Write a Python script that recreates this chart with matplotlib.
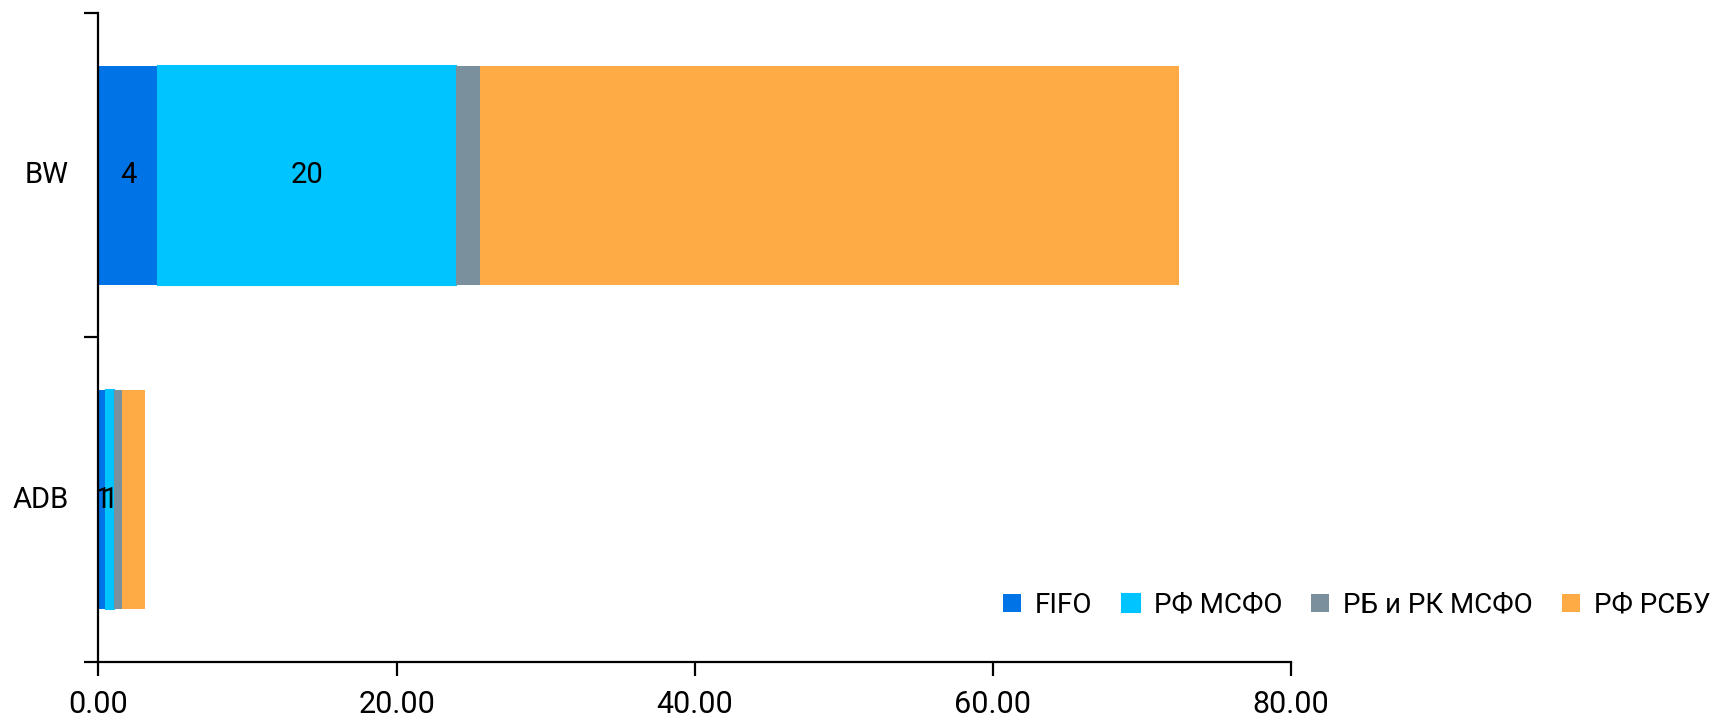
import numpy as np
import matplotlib.pyplot as plt

plt.rcParams['font.family'] = ['Roboto', 'DejaVu Sans']

# данные
categories = ['ADB', 'BW']
series_names = ['FIFO', 'РФ МСФО', 'РБ и РК МСФО', 'РФ РСБУ']
fifo = [0.51, 4.0]
rf_msfo = [0.54, 20.0]
rb_rk_msfo = [0.54, 1.6]
rf_rsbu = [1.5, 46.9]
colors = ['#0073E6', '#00C4FF', '#7A909C', '#FFAB45']
labelled = [True, True, False, False]

fig = plt.figure(figsize=(17.16, 7.19), dpi=100)
ax = fig.add_axes([0.0574, 0.0793, 0.6949, 0.9027])

y = np.arange(len(categories))
left = np.zeros(len(categories))
for vals, name, col, lab in zip([fifo, rf_msfo, rb_rk_msfo, rf_rsbu], series_names, colors, labelled):
    lw = 1.5 if name == 'РФ МСФО' else 0
    bars = ax.barh(y, vals, left=left, height=0.675, color=col, label=name,
                   edgecolor=col, linewidth=lw)
    if lab:
        ax.bar_label(bars, labels=['%.0f' % v for v in vals], label_type='center', fontsize=21)
    left = left + np.array(vals)

ax.set_xlim(0, 80)
ax.set_ylim(-0.5, 1.5)
ax.set_xticks([0, 20, 40, 60, 80])
ax.set_xticklabels(['%.2f' % t for t in [0, 20, 40, 60, 80]], fontsize=22)
ax.set_yticks([-0.5, 0.5, 1.5])
ax.set_yticklabels([])
for yi, c in zip(y, categories):
    ax.text(-0.025, yi, c, transform=ax.get_yaxis_transform(), ha='right', va='center', fontsize=21)

for s in ['top', 'right']:
    ax.spines[s].set_visible(False)
for s in ['left', 'bottom']:
    ax.spines[s].set_linewidth(1.6)
ax.tick_params(axis='both', direction='out', length=10, width=1.6)
ax.tick_params(axis='x', pad=10)

fig.legend(loc='center left', bbox_to_anchor=(0.578, 0.1585), ncol=4, frameon=False,
           fontsize=20, handlelength=0.65, handleheight=0.65, handletextpad=0.5,
           columnspacing=1.05, borderaxespad=0)

fig.savefig('out.png', dpi=100)
